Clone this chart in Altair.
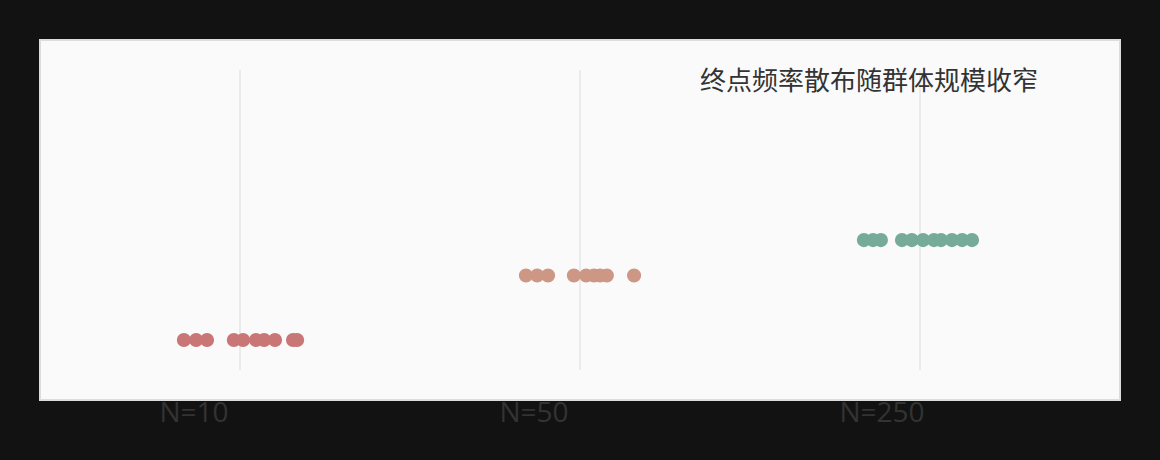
import altair as alt
import pandas as pd
import jinja2

# ---- data ----
groups = ["N=10", "N=50", "N=250"]
group_colors = ["#c87676", "#cd9785", "#75ab98"]
group_level = [0.10, 0.315, 0.433]          # vertical level of each strip
endpoint_freq = {
    "N=10":  [0.335, 0.371, 0.403, 0.482, 0.509, 0.547, 0.571, 0.603, 0.656, 0.668],
    "N=50":  [0.341, 0.374, 0.406, 0.482, 0.518, 0.541, 0.559, 0.579, 0.659],
    "N=250": [0.335, 0.362, 0.385, 0.447, 0.476, 0.509, 0.541, 0.562, 0.594, 0.624, 0.653],
}
title_text = "终点频率散布随群体规模收窄"

# ---- tables ----
rows = []
for i, g in enumerate(groups):
    for f in endpoint_freq[g]:
        rows.append({"group": g, "idx": i, "freq": f, "level": group_level[i]})
pts = pd.DataFrame(rows)
grid = pd.DataFrame({"group": groups, "idx": list(range(len(groups))), "lo": [0.0] * 3, "hi": [1.0] * 3})

label_expr = "[" + ",".join("'" + g + "'" for g in groups) + "][datum.value]"

xscale = alt.Scale(domain=[-0.5882, 2.5882], nice=False, zero=False)
yscale = alt.Scale(domain=[-0.1, 1.1], nice=False, zero=False)

xaxis = alt.Axis(
    values=[0, 1, 2], labelExpr=label_expr, grid=False, domain=False, ticks=False,
    tickSize=0, labelAlign="left", labelOffset=-81, labelBaseline="alphabetic",
    labelPadding=21, labelFont="Open Sans", labelFontSize=28, labelColor="#333333",
    title=None,
)

rules = alt.Chart(grid).mark_rule(color="#e6e6e6", strokeWidth=1.5).encode(
    x=alt.X("idx:Q", scale=xscale, axis=xaxis),
    y=alt.Y("lo:Q", scale=yscale, axis=None),
    y2="hi:Q",
)

points = alt.Chart(pts).transform_calculate(
    pos="datum.idx + datum.freq - 0.5"
).mark_circle(size=200, opacity=1).encode(
    x=alt.X("pos:Q", scale=xscale, axis=xaxis),
    y=alt.Y("level:Q", scale=yscale, axis=None),
    color=alt.Color("group:N", scale=alt.Scale(domain=groups, range=group_colors), legend=None),
)

chart = alt.layer(rules, points).properties(
    width=1080,
    height=360,
    background="#121212",
    autosize=alt.AutoSizeParams(type="none"),
    padding={"left": 32, "top": 32, "right": 32, "bottom": 52},
    title=alt.TitleParams(
        text=title_text, anchor="end", frame="group", orient="top", offset=0,
        dx=-82, dy=76, baseline="alphabetic", fontSize=26, fontWeight="normal",
        font="Noto Sans CJK SC", color="#333333",
    ),
).configure_view(
    fill="#fafafa", stroke="#dddddd", strokeWidth=2
)

# page template: same CDN scripts as Altair's standard one, with a dark page background
page_template = jinja2.Template("""<!DOCTYPE html>
<html>
<head>
  <meta charset="utf-8">
  <style>
    body { background-color: #121212; }
    #{{ output_div }}.vega-embed { width: 100%; display: flex; }
  </style>
  <script type="text/javascript" src="{{ base_url }}/vega@{{ vega_version }}"></script>
  <script type="text/javascript" src="{{ base_url }}/vega-lite@{{ vegalite_version }}"></script>
  <script type="text/javascript" src="{{ base_url }}/vega-embed@{{ vegaembed_version }}"></script>
</head>
<body>
  <div id="{{ output_div }}"></div>
  <script type="text/javascript">
    var spec = {{ spec }};
    var embedOpt = {{ embed_options }};
    vegaEmbed("#{{ output_div }}", spec, embedOpt).catch(console.error);
  </script>
</body>
</html>
""")

chart.save("out.html", embed_options={"renderer": "svg", "actions": False}, template=page_template)
